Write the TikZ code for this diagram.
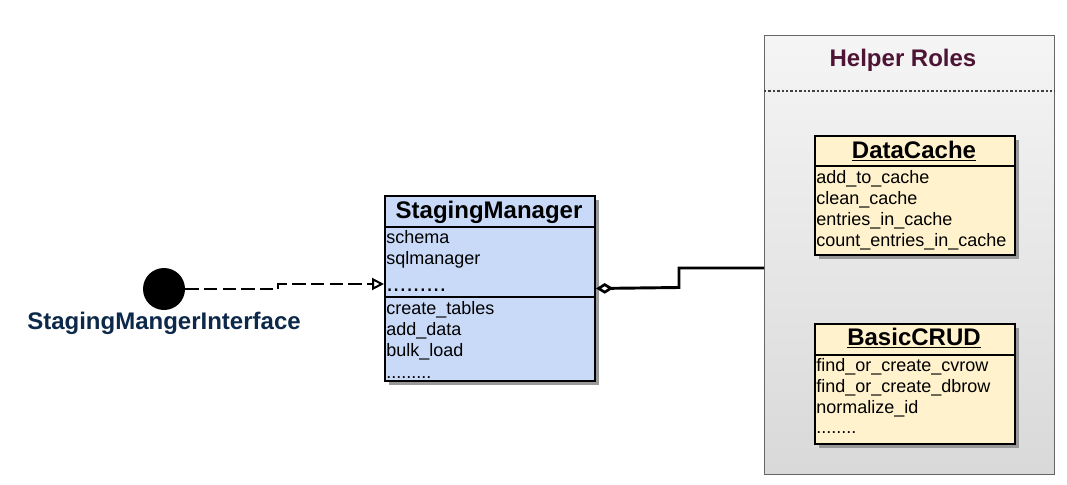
\documentclass[tikz,border=0pt]{standalone}
\usepackage{fontspec}
\setmainfont{Liberation Sans}
\usetikzlibrary{arrows.meta,shadows}

\definecolor{ifacenavy}{RGB}{12,40,74}
\definecolor{rolemaroon}{RGB}{77,20,52}
\definecolor{classblue}{RGB}{201,218,248}
\definecolor{roleyellow}{RGB}{255,242,204}

\tikzset{
  classbox/.style={draw, line width=1.5pt, anchor=north west, inner sep=0pt,
    drop shadow={shadow xshift=3pt, shadow yshift=-3pt, fill=black!40, opacity=1}},
  rolebox/.style={draw=black!60, line width=1pt, anchor=north west, inner sep=0pt,
    top color=black!4, bottom color=black!15},
  classtitle/.style={anchor=base, inner sep=0pt, font=\fontsize{18}{20}\selectfont\bfseries},
  member/.style={anchor=base west, inner sep=0pt, font=\fontsize{13.5}{16}\selectfont},
  sepline/.style={line width=1.5pt},
}

\begin{document}
\begin{tikzpicture}[x=0.75pt,y=-0.75pt]
    \useasboundingbox (0,0) rectangle (1067,485);

    % Draw the helper roles container
    \node[rolebox, minimum width=217.5pt, minimum height=329.25pt] (roles) at (764,35) {};
    \node[classtitle, text=rolemaroon] (rolestitle) at (903,67) {Helper Roles};
    \draw[line width=1.8pt, black!75, dash pattern=on 1.8pt off 1.5pt] (roles.west |- 0,91) -- (roles.east |- 0,91);

    % Draw the staging manager class
    \node[classbox, fill=classblue, minimum width=157.5pt, minimum height=138.75pt] (sm) at (384,195) {};
    \draw[sepline] (sm.west |- 0,227) -- (sm.east |- 0,227);
    \draw[sepline] (sm.west |- 0,297) -- (sm.east |- 0,297);
    \node[classtitle] (smtitle) at (489,218) {StagingManager};
    \foreach \y/\txt in {243/schema, 264/sqlmanager, 314/create\_tables, 335/add\_data, 356/bulk\_load}
        \node[member] (sm-\y) at (386,\y) {\txt};
    \node[member, font=\fontsize{18}{20}\selectfont] (smdots) at (386,291) {.........};
    \node[member] (smmoredots) at (386,378) {.........};

    % Draw the data cache role
    \node[classbox, fill=roleyellow, minimum width=150pt, minimum height=89.25pt] (cache) at (814,135) {};
    \draw[sepline] (cache.west |- 0,166) -- (cache.east |- 0,166);
    \node[classtitle] (cachetitle) at (914,158) {\underline{DataCache}};
    \foreach \y/\txt in {183/add\_to\_cache, 204/clean\_cache, 225/entries\_in\_cache, 246/count\_entries\_in\_cache}
        \node[member] (cache-\y) at (816,\y) {\txt};

    % Draw the basic CRUD role
    \node[classbox, fill=roleyellow, minimum width=150pt, minimum height=90pt] (crud) at (814,323) {};
    \draw[sepline] (crud.west |- 0,355) -- (crud.east |- 0,355);
    \node[classtitle] (crudtitle) at (914,345) {\underline{BasicCRUD}};
    \foreach \y/\txt in {371/find\_or\_create\_cvrow, 392/find\_or\_create\_dbrow, 413/normalize\_id}
        \node[member] (crud-\y) at (816,\y) {\txt};
    \node[member] (cruddots) at (816,433) {........};

    % Draw the interface lollipop
    \node[circle, fill=black, minimum size=31.5pt, inner sep=0pt] (iface) at (164,289) {};
    \node[classtitle, text=ifacenavy] (ifacelabel) at (164,329) {StagingMangerInterface};

    % Connectors
    \draw[line width=1.5pt, dash pattern=on 10pt off 4pt, -{Triangle[open, length=9pt, width=9pt, fill=white, line width=1.5pt]}]
        (iface.east) -- ++(93,0) |- (sm.west |- 0,284);
    \draw[line width=2.2pt, {Diamond[open, length=13pt, width=8pt, fill=white, line width=2pt]}-]
        (sm.east) -- (679,287.5) |- (roles.west |- 0,268);
\end{tikzpicture}
\end{document}
